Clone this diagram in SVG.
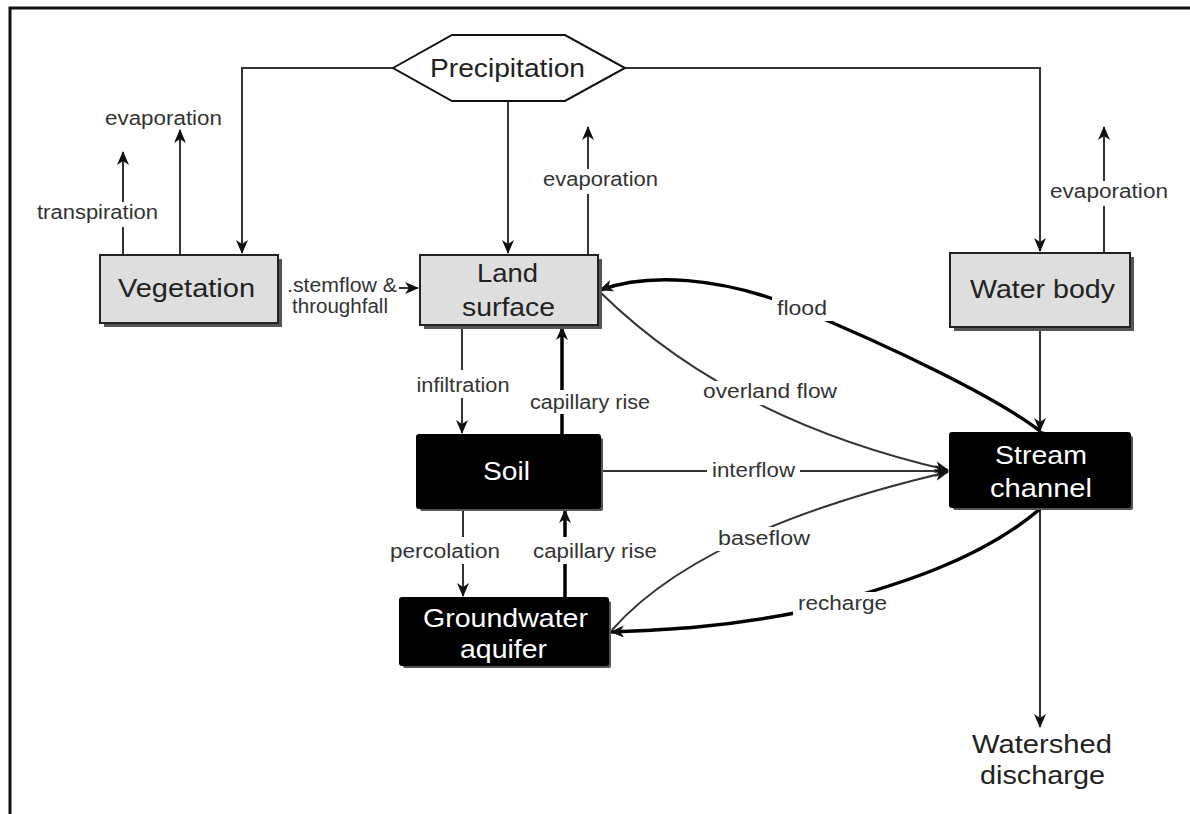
<svg xmlns="http://www.w3.org/2000/svg" width="1190" height="814" viewBox="0 0 1190 814">
<defs>
<marker id="arr" markerUnits="userSpaceOnUse" markerWidth="14" markerHeight="12" refX="13" refY="6" orient="auto">
<path d="M0,0 L14,6 L0,12 L4,6 z" fill="#111"/>
</marker>
<style>
.ln{fill:none;stroke:#333;stroke-width:2}
.thk{fill:none;stroke:#000;stroke-width:3.5}
.lbl{font-family:"Liberation Sans",Arial,sans-serif;font-size:20px;fill:#333;text-anchor:middle}
.big{font-family:"Liberation Sans",Arial,sans-serif;font-size:26px;text-anchor:middle;fill:#222}
.wt{fill:#fff}
.gbox{fill:#dedede;stroke:#222;stroke-width:2}
.bbox{fill:#000;stroke:#000;stroke-width:2}
.shadow{fill:#555}
.bg{fill:#fff}
</style>
</defs>
<rect x="0" y="0" width="1190" height="814" fill="#fff"/>
<path d="M10,814 V8 H1190" fill="none" stroke="#111" stroke-width="3"/>

<g id="connectors">
<path class="ln" d="M393,68 H242 V253" marker-end="url(#arr)"/>
<path class="ln" d="M625,68 H1040 V251" marker-end="url(#arr)"/>
<path class="ln" d="M508,100 V253" marker-end="url(#arr)"/>
<path class="ln" d="M123,255 V227 M123,202 V152" marker-end="url(#arr)"/>
<path class="ln" d="M180,255 V130" marker-end="url(#arr)"/>
<path class="ln" d="M588,255 V194 M588,169 V127" marker-end="url(#arr)"/>
<path class="ln" d="M1104,253 V206 M1104,181 V127" marker-end="url(#arr)"/>
<path class="ln" d="M399,288 H418" marker-end="url(#arr)"/>
<path class="ln" d="M1040,329 V431" marker-end="url(#arr)"/>
<path class="ln" d="M1040,509 V727" marker-end="url(#arr)"/>
<path class="ln" d="M462,327 V370 M462,398 V433" marker-end="url(#arr)"/>
<path class="thk" d="M562,435 V414 M562,390 V327" marker-end="url(#arr)"/>
<path class="ln" d="M463,510 V537 M463,564 V596" marker-end="url(#arr)"/>
<path class="thk" d="M565,598 V564 M565,537 V510" marker-end="url(#arr)"/>
<path class="thk" d="M1040,431 C1000,400 900,350 790,305 C720,278 650,272 600,290" marker-start="url(#arr)" marker-end="url(#arr)"/>
<path class="ln" d="M600,292 Q730,420 948,470" marker-end="url(#arr)"/>
<path class="ln" d="M602,471 H948" marker-end="url(#arr)"/>
<path class="ln" d="M612,630 Q700,530 948,472" marker-end="url(#arr)"/>
<path class="thk" d="M1040,509 C980,560 900,585 800,612 C720,628 660,630 611,632" marker-end="url(#arr)"/>

<rect class="bg" x="772" y="297" width="60" height="24"/>
<rect class="bg" x="698" y="381" width="144" height="24"/>
<rect class="bg" x="707" y="459" width="93" height="24"/>
<rect class="bg" x="713" y="527" width="102" height="24"/>
<rect class="bg" x="793" y="592" width="99" height="24"/>

<text class="lbl" x="163.5" y="125" textLength="117" lengthAdjust="spacingAndGlyphs">evaporation</text>
<text class="lbl" x="97.5" y="219" textLength="121" lengthAdjust="spacingAndGlyphs">transpiration</text>
<text class="lbl" x="600.5" y="186" textLength="115" lengthAdjust="spacingAndGlyphs">evaporation</text>
<text class="lbl" x="1109" y="198" textLength="118" lengthAdjust="spacingAndGlyphs">evaporation</text>
<text class="lbl" x="342" y="292" textLength="110" lengthAdjust="spacingAndGlyphs">.stemflow &amp;</text>
<text class="lbl" x="340" y="313" textLength="96" lengthAdjust="spacingAndGlyphs">throughfall</text>
<text class="lbl" x="463" y="392" textLength="93" lengthAdjust="spacingAndGlyphs">infiltration</text>
<text class="lbl" x="590" y="409" textLength="120" lengthAdjust="spacingAndGlyphs">capillary rise</text>
<text class="lbl" x="445" y="558" textLength="110" lengthAdjust="spacingAndGlyphs">percolation</text>
<text class="lbl" x="595" y="558" textLength="124" lengthAdjust="spacingAndGlyphs">capillary rise</text>
<text class="lbl" x="802" y="315" textLength="50" lengthAdjust="spacingAndGlyphs">flood</text>
<text class="lbl" x="770" y="398" textLength="134" lengthAdjust="spacingAndGlyphs">overland flow</text>
<text class="lbl" x="753.5" y="477" textLength="83" lengthAdjust="spacingAndGlyphs">interflow</text>
<text class="lbl" x="764" y="545" textLength="92" lengthAdjust="spacingAndGlyphs">baseflow</text>
<text class="lbl" x="842.5" y="610" textLength="89" lengthAdjust="spacingAndGlyphs">recharge</text>
</g>

<g id="precipitation">
<polygon points="393,68 452,35 565,35 625,68 565,101 452,101" fill="#fff" stroke="#111" stroke-width="2"/>
<text class="big" x="507.5" y="77" textLength="155" lengthAdjust="spacingAndGlyphs">Precipitation</text>
</g>

<g id="vegetation">
<rect class="shadow" x="104" y="259" width="178" height="68"/>
<rect class="gbox" x="100" y="255" width="178" height="68"/>
<text class="big" x="186.5" y="297" font-size="27" textLength="137" lengthAdjust="spacingAndGlyphs">Vegetation</text>
</g>

<g id="land-surface">
<rect class="shadow" x="424" y="259" width="178" height="70"/>
<rect class="gbox" x="420" y="255" width="178" height="70"/>
<text class="big" x="507.5" y="282" textLength="61" lengthAdjust="spacingAndGlyphs">Land</text>
<text class="big" x="508.5" y="316" textLength="93" lengthAdjust="spacingAndGlyphs">surface</text>
</g>

<g id="water-body">
<rect class="shadow" x="954" y="257" width="180" height="74"/>
<rect class="gbox" x="950" y="253" width="180" height="74"/>
<text class="big" x="1042.5" y="298" textLength="145" lengthAdjust="spacingAndGlyphs">Water body</text>
</g>

<g id="soil">
<rect class="shadow" x="420" y="438" width="183" height="73" rx="2"/>
<rect class="bbox" x="417" y="435" width="183" height="73" rx="2"/>
<text class="big wt" x="506.5" y="480" textLength="47" lengthAdjust="spacingAndGlyphs">Soil</text>
</g>

<g id="groundwater-aquifer">
<rect class="shadow" x="403" y="601" width="208" height="67" rx="2"/>
<rect class="bbox" x="400" y="598" width="208" height="67" rx="2"/>
<text class="big wt" x="505.5" y="627" textLength="165" lengthAdjust="spacingAndGlyphs">Groundwater</text>
<text class="big wt" x="503.5" y="658" textLength="87" lengthAdjust="spacingAndGlyphs">aquifer</text>
</g>

<g id="stream-channel">
<rect class="shadow" x="953" y="436" width="180" height="74" rx="2"/>
<rect class="bbox" x="950" y="433" width="180" height="74" rx="2"/>
<text class="big wt" x="1041" y="464" textLength="92" lengthAdjust="spacingAndGlyphs">Stream</text>
<text class="big wt" x="1041" y="497" textLength="102" lengthAdjust="spacingAndGlyphs">channel</text>
</g>

<g id="watershed-discharge">
<text class="big" x="1042" y="753" textLength="140" lengthAdjust="spacingAndGlyphs">Watershed</text>
<text class="big" x="1042.5" y="784" textLength="125" lengthAdjust="spacingAndGlyphs">discharge</text>
</g>
</svg>
